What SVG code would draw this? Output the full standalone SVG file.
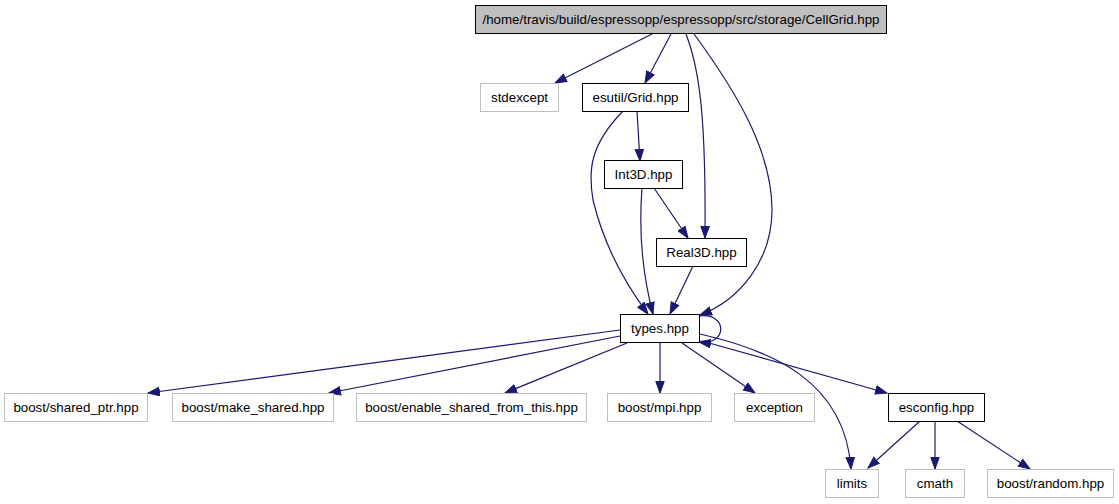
<svg xmlns="http://www.w3.org/2000/svg" width="1119" height="504" viewBox="0 0 1119 504">
<defs>
<style>
.n rect{fill:#ffffff;stroke:#000000;stroke-width:1}
.g rect{fill:#ffffff;stroke:#bfbfbf;stroke-width:1}
.top rect{fill:#bfbfbf;stroke:#000000;stroke-width:1}
text{font-family:"Liberation Sans",Arial,sans-serif;font-size:13.33px;fill:#000000;text-anchor:middle}
.e path{fill:none;stroke:#191970;stroke-width:1.2;marker-end:url(#ah)}
</style>
<marker id="ah" markerUnits="userSpaceOnUse" markerWidth="13" markerHeight="10" refX="12" refY="5" orient="auto" viewBox="0 0 13 10">
<path d="M0.5,0.8 L12,5 L0.5,9.2 z" fill="#191970" stroke="#191970" stroke-width="1"/>
</marker>
</defs>
<rect width="1119" height="504" fill="#ffffff"/>
<g class="e" id="edges">
<path d="M652,34 L555,83"/>
<path d="M671,34 L645,83"/>
<path d="M686,34 C700,70 706,120 705,238"/>
<path d="M694,34 C735,90 772,150 772,210 C772,260 740,300 700,315"/>
<path d="M623,111 C590,145 588,170 593,200 C605,250 630,290 648,314"/>
<path d="M637,111 L640,161"/>
<path d="M642,188 C638,240 644,280 653,314"/>
<path d="M654,188 L688,238"/>
<path d="M693,266 L670,314"/>
<path d="M699,316 C728,312 728,346 699,342"/>
<path d="M620,330 L148,393"/>
<path d="M620,336 L329,393"/>
<path d="M627,343 L505,393"/>
<path d="M660,343 L660,393"/>
<path d="M682,343 L755,393"/>
<path d="M700,334 C770,350 845,380 851,469"/>
<path d="M702,341 L887,393"/>
<path d="M920,421 L868,468"/>
<path d="M935,421 L935,469"/>
<path d="M957,421 L1030,469"/>
</g>
<g id="n_cellgrid" class="top"><rect x="475.5" y="5.5" width="411" height="28"/><text x="681" y="24">/home/travis/build/espressopp/espressopp/src/storage/CellGrid.hpp</text></g>
<g id="n_stdexcept" class="g"><rect x="480.5" y="83.5" width="78" height="28"/><text x="519.5" y="102">stdexcept</text></g>
<g id="n_grid" class="n"><rect x="582.5" y="83.5" width="106" height="28"/><text x="635.5" y="102">esutil/Grid.hpp</text></g>
<g id="n_int3d" class="n"><rect x="604.5" y="160.5" width="78" height="28"/><text x="643.5" y="179">Int3D.hpp</text></g>
<g id="n_real3d" class="n"><rect x="656.5" y="238.5" width="90" height="28"/><text x="701.5" y="257">Real3D.hpp</text></g>
<g id="n_types" class="n"><rect x="620.5" y="314.5" width="79" height="28"/><text x="660" y="333">types.hpp</text></g>
<g id="n_shared_ptr" class="g"><rect x="4.5" y="393.5" width="143" height="28"/><text x="76" y="412">boost/shared_ptr.hpp</text></g>
<g id="n_make_shared" class="g"><rect x="172.5" y="393.5" width="161" height="28"/><text x="253" y="412">boost/make_shared.hpp</text></g>
<g id="n_enable_shared" class="g"><rect x="356.5" y="393.5" width="230" height="28"/><text x="471.5" y="412">boost/enable_shared_from_this.hpp</text></g>
<g id="n_mpi" class="g"><rect x="607.5" y="393.5" width="104" height="28"/><text x="659.5" y="412">boost/mpi.hpp</text></g>
<g id="n_exception" class="g"><rect x="734.5" y="393.5" width="80" height="28"/><text x="774.5" y="412">exception</text></g>
<g id="n_esconfig" class="n"><rect x="888.5" y="393.5" width="96" height="28"/><text x="936.5" y="412">esconfig.hpp</text></g>
<g id="n_limits" class="g"><rect x="825.5" y="469.5" width="53" height="28"/><text x="852" y="488">limits</text></g>
<g id="n_cmath" class="g"><rect x="905.5" y="469.5" width="59" height="28"/><text x="935" y="488">cmath</text></g>
<g id="n_random" class="g"><rect x="987.5" y="469.5" width="126" height="28"/><text x="1050.5" y="488">boost/random.hpp</text></g>
</svg>
